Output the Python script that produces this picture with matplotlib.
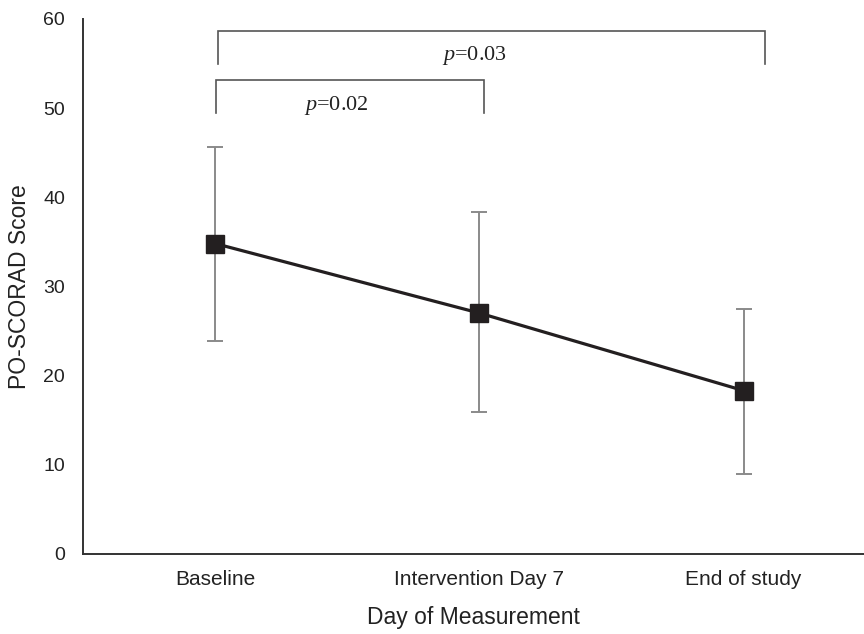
import matplotlib
matplotlib.use("Agg")
import matplotlib.pyplot as plt
import numpy as np

plt.rcParams["mathtext.fontset"] = "custom"
plt.rcParams["mathtext.rm"] = "Liberation Serif"
plt.rcParams["mathtext.it"] = "Liberation Serif:italic"

# values
days = ["Baseline", "Intervention Day 7", "End of study"]
score_mean = [34.8, 27.0, 18.3]
err_upper = [45.6, 38.3, 27.5]
err_lower = [23.9, 15.9, 8.9]

# significance brackets
bracket_left = [0.0125, 0.005]
bracket_right = [2.083, 1.016]
bracket_top = [58.7, 53.1]
bracket_bottom = [55.0, 49.4]
p_labels = ["0.03", "0.02"]
p_label_x = [0.98, 0.46]
p_label_y = [55.9, 50.3]

x = np.arange(len(days))
mean = np.array(score_mean)
yerr = np.vstack([mean - np.array(err_lower), np.array(err_upper) - mean])

fig = plt.figure(figsize=(8.64, 6.34), dpi=100)
ax = fig.add_axes([0.096, 0.1267, 0.904, 0.8434])

ax.errorbar(x, mean, yerr=yerr, fmt="none", ecolor="#8a8a8a", elinewidth=1.4,
            capsize=5.5, capthick=1.4, zorder=2)
ax.plot(x, mean, color="#231f20", linewidth=2.3, marker="s", markersize=13,
        markerfacecolor="#231f20", markeredgecolor="#231f20", zorder=3)

for xl, xr, top, bot, lab, lx, ly in zip(bracket_left, bracket_right, bracket_top,
                                          bracket_bottom, p_labels, p_label_x, p_label_y):
    ax.plot([xl, xl, xr, xr], [bot, top, top, bot], color="#555555", linewidth=1.2,
            solid_joinstyle="miter", zorder=1)
    ax.text(lx, ly, "$p$=" + lab, ha="center", va="center", fontsize=16,
            family="Liberation Serif", color="#222222")

ax.set_xlim(-0.5, 2.456)
ax.set_ylim(0, 60)
ax.set_yticks(np.arange(0, 61, 10))
ax.set_xticks(x)
ax.set_xticklabels(days, fontsize=15, family="Liberation Sans", color="#222222")
for t in ax.get_yticklabels():
    t.set_fontsize(14)
    t.set_family("Liberation Sans")
    t.set_color("#222222")
ax.tick_params(axis="both", length=0)
ax.tick_params(axis="y", pad=13)
ax.tick_params(axis="x", pad=12)

ax.spines["top"].set_visible(False)
ax.spines["right"].set_visible(False)
for s in ("left", "bottom"):
    ax.spines[s].set_color("#333333")
    ax.spines[s].set_linewidth(1.4)

ax.set_xlabel("Day of Measurement", fontsize=16.5, family="Liberation Sans", color="#222222", labelpad=12)
ax.set_ylabel("PO-SCORAD Score", fontsize=16.5, family="Liberation Sans", color="#222222", labelpad=9)

fig.savefig("out.png", dpi=100)
